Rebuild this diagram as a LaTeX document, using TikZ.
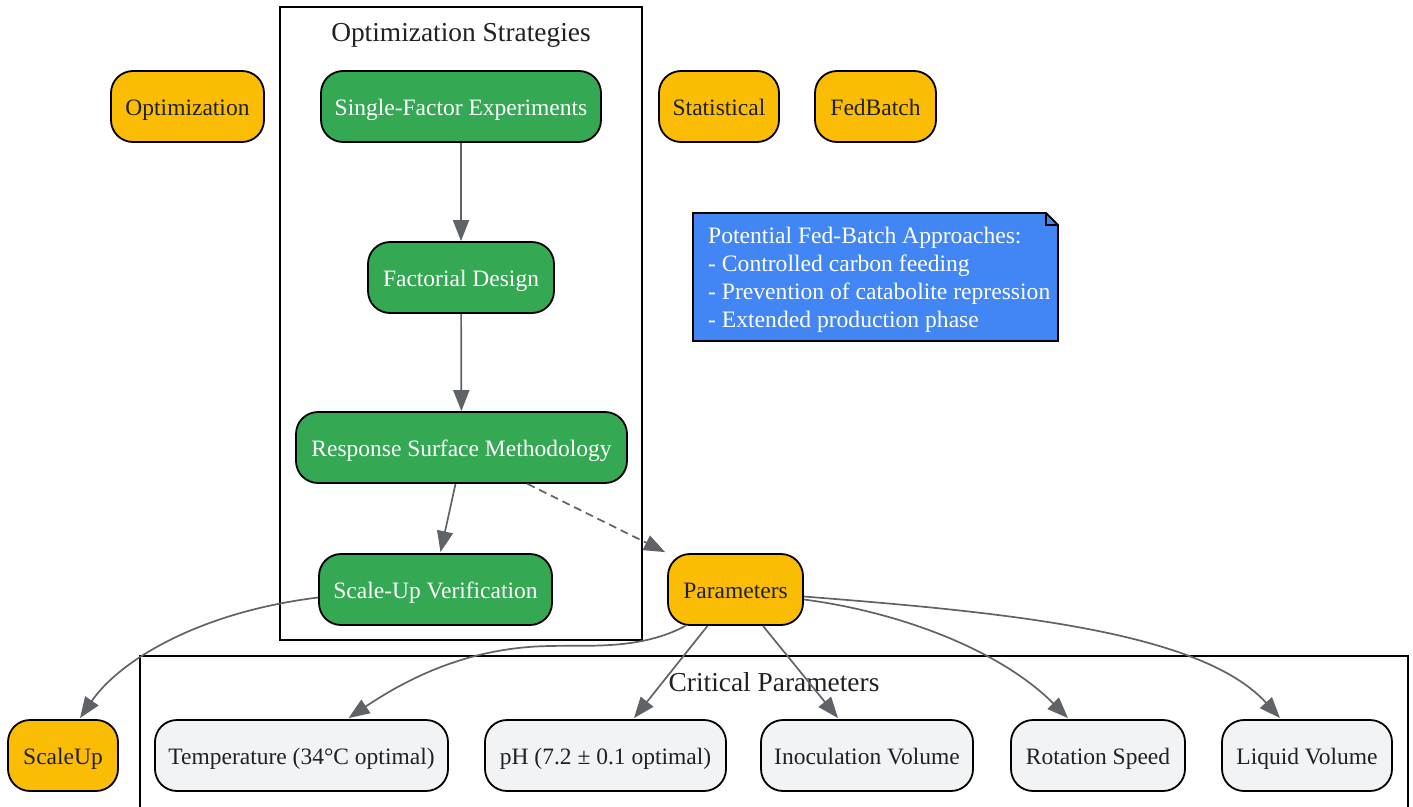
\documentclass[tikz,border=0pt]{standalone}
\usepackage{fontspec}
\setmainfont{Liberation Serif}
\usetikzlibrary{arrows.meta,backgrounds}
\definecolor{gyellow}{HTML}{FBBC04}
\definecolor{ggreen}{HTML}{34A853}
\definecolor{gblue}{HTML}{4285F4}
\definecolor{ggrey}{HTML}{F1F3F4}
\definecolor{gedge}{HTML}{5F6368}
\definecolor{gtext}{HTML}{202124}
\begin{document}
\begin{tikzpicture}[x=1pt,y=-1pt,
  base/.style={rectangle, rounded corners=22pt, draw=black, line width=1.8pt, minimum height=71pt, inner sep=0pt, text height=20pt, text depth=3pt, font=\fontsize{23.5}{28}\selectfont},
  ybox/.style={base, fill=gyellow, text=gtext},
  gbox/.style={base, fill=ggreen, text=white},
  pbox/.style={base, fill=ggrey, text=gtext},
  conn/.style={draw=gedge, line width=1.7pt, -{Triangle[length=21pt,width=16pt]}},
  frame/.style={draw=black, line width=1.7pt},
  ctitle/.style={font=\fontsize{27.4}{30}\selectfont, text=gtext, inner sep=0pt},
  notetext/.style={font=\fontsize{23.6}{28}\selectfont, text=white, align=left, inner sep=0pt}
]
\useasboundingbox (0,0) rectangle (1413,806);
% clusters
\draw[frame] (280,7) rectangle (642,640);
\node[ctitle] (t1) at (461,35) {Optimization Strategies};
\draw[frame] (140,820) -- (140,656) -- (1408,656) -- (1408,820);
\node[ctitle] (t2) at (774,682) {Critical Parameters};

% note
\draw[line width=1.8pt, fill=gblue] (693,213) -- (1046,213) -- (1058,225) -- (1058,341) -- (693,341) -- cycle;
\draw[line width=1.8pt] (1046,213) -- (1046,225) -- (1058,225);
\node[notetext, anchor=west] (note) at (708,280) {Potential Fed-Batch Approaches:\\- Controlled carbon feeding\\- Prevention of catabolite repression\\- Extended production phase};

% top row
\node[ybox, minimum width=153pt] (opt) at (187.5,106.5) {Optimization};
\node[gbox, minimum width=280pt] (sfe) at (461,106.5) {Single-Factor Experiments};
\node[ybox, minimum width=120pt] (stat) at (719,106.5) {Statistical};
\node[ybox, minimum width=121pt] (fed) at (875.5,106.5) {FedBatch};

\node[gbox, minimum width=186pt] (fd) at (461,277.5) {Factorial Design};
\node[gbox, minimum width=331pt] (rsm) at (461.5,447.5) {Response Surface Methodology};
\node[gbox, minimum width=233pt] (suv) at (435.5,589.5) {Scale-Up Verification};
\node[ybox, minimum width=135pt] (par) at (735.5,589.5) {Parameters};

\node[ybox, minimum width=110pt] (sup) at (63,755.5) {ScaleUp};
\node[pbox, minimum width=293pt] (temp) at (301.5,755.5) {Temperature (34°C optimal)};
\node[pbox, minimum width=241pt] (ph) at (605.5,755.5) {pH (7.2 ± 0.1 optimal)};
\node[pbox, minimum width=212pt] (ino) at (867,755.5) {Inoculation Volume};
\node[pbox, minimum width=174pt] (rot) at (1098,755.5) {Rotation Speed};
\node[pbox, minimum width=170pt] (liq) at (1307,755.5) {Liquid Volume};

% edges
\draw[conn] (sfe) -- (fd);
\draw[conn] (fd) -- (rsm);
\draw[conn] ([xshift=-6pt]rsm.south) -- ([xshift=5pt,yshift=1pt]suv.north);
\draw[conn, dash pattern=on 8pt off 5pt] ([xshift=66pt]rsm.south) -- ([xshift=-2pt,yshift=1pt]par.north west);
\draw[conn] ([yshift=-8pt]suv.west) .. controls (200,612) and (120,660) .. ([xshift=17pt,yshift=1pt]sup.north);
\draw[conn] ([xshift=-50pt]par.south) .. controls (640,650) and (590,645) .. (550,646) .. controls (480,647) and (420,670) .. ([xshift=47pt,yshift=1pt]temp.north);
\draw[conn] ([xshift=-28pt]par.south) -- ([xshift=28.5pt,yshift=1pt]ph.north);
\draw[conn] ([xshift=27.5pt]par.south) -- ([xshift=-29pt,yshift=1pt]ino.north);
\draw[conn] ([yshift=-10pt]par.east) .. controls (900,612) and (1000,650) .. ([xshift=-30pt,yshift=1pt]rot.north);
\draw[conn] ([yshift=-7pt]par.east) .. controls (1000,612) and (1200,630) .. ([xshift=-27pt,yshift=1pt]liq.north);
\end{tikzpicture}
\end{document}
